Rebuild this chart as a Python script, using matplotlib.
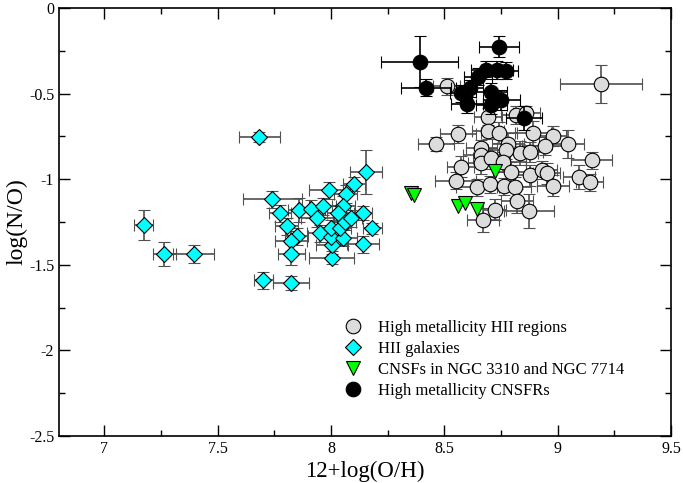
import numpy as np
import matplotlib
matplotlib.use("Agg")
import matplotlib.pyplot as plt
from matplotlib.lines import Line2D
from matplotlib.ticker import MultipleLocator

plt.rcParams['font.family'] = ['Liberation Serif', 'DejaVu Serif']

# High metallicity HII regions (grey circles)
hii_x = [9.192, 8.510, 8.463, 8.561, 8.693, 8.693, 8.741, 8.818, 8.862, 8.891,
         8.979, 9.045, 8.942, 8.781, 8.833, 8.877, 8.774, 8.664, 8.662, 8.664,
         8.708, 8.759, 8.796, 8.573, 8.551, 8.642, 8.701, 8.764, 8.811, 8.880,
         8.929, 8.951, 8.980, 9.093, 9.141, 9.151, 8.821, 8.872, 8.722, 8.671]
hii_y = [-0.444, -0.456, -0.796, -0.736, -0.635, -0.717, -0.728, -0.625, -0.615, -0.728,
         -0.748, -0.795, -0.806, -0.792, -0.849, -0.841, -0.829, -0.820, -0.859, -0.907,
         -0.878, -0.898, -0.959, -0.927, -1.009, -1.047, -1.029, -1.040, -1.047, -0.978,
         -0.946, -0.966, -1.037, -0.989, -1.018, -0.888, -1.127, -1.187, -1.178, -1.238]
hii_xerr = [0.18, 0.06, 0.08, 0.08, 0.06, 0.07, 0.08, 0.07, 0.06, 0.08,
            0.06, 0.07, 0.10, 0.07, 0.08, 0.06, 0.08, 0.07, 0.08, 0.06,
            0.08, 0.10, 0.08, 0.06, 0.09, 0.09, 0.07, 0.06, 0.07, 0.07,
            0.07, 0.06, 0.07, 0.07, 0.06, 0.09, 0.07, 0.11, 0.05, 0.07]
hii_yerr = [0.11, 0.05, 0.04, 0.05, 0.05, 0.05, 0.06, 0.05, 0.04, 0.07,
            0.06, 0.08, 0.05, 0.06, 0.07, 0.06, 0.05, 0.05, 0.05, 0.06,
            0.06, 0.06, 0.06, 0.06, 0.05, 0.05, 0.05, 0.05, 0.06, 0.06,
            0.05, 0.06, 0.06, 0.07, 0.05, 0.05, 0.07, 0.10, 0.06, 0.07]

# HII galaxies (cyan diamonds)
gal_x = [7.684, 7.173, 7.264, 7.395, 8.153, 8.101, 8.064, 7.992, 7.741, 7.775,
         7.860, 7.912, 7.963, 8.054, 8.142, 8.183, 7.937, 7.952, 7.805, 7.849,
         7.824, 7.824, 7.702, 7.824, 8.003, 8.003, 7.999, 7.999, 8.054, 8.040,
         8.062, 8.087, 8.032, 8.142]
gal_y = [-0.752, -1.267, -1.437, -1.437, -0.958, -1.026, -1.086, -1.065, -1.117, -1.199,
         -1.178, -1.174, -1.157, -1.157, -1.199, -1.287, -1.229, -1.316, -1.276, -1.332,
         -1.361, -1.439, -1.589, -1.608, -1.458, -1.384, -1.336, -1.287, -1.342, -1.287,
         -1.248, -1.229, -1.199, -1.380]
gal_xerr = [0.09, 0.04, 0.05, 0.09, 0.07, 0.05, 0.05, 0.09, 0.13, 0.05,
            0.05, 0.06, 0.06, 0.05, 0.04, 0.04, 0.07, 0.06, 0.05, 0.05,
            0.07, 0.06, 0.04, 0.08, 0.10, 0.07, 0.05, 0.05, 0.06, 0.05,
            0.05, 0.05, 0.05, 0.07]
gal_yerr = [0.03, 0.09, 0.07, 0.05, 0.13, 0.04, 0.05, 0.05, 0.05, 0.05,
            0.07, 0.05, 0.05, 0.06, 0.04, 0.03, 0.05, 0.05, 0.05, 0.05,
            0.06, 0.06, 0.05, 0.04, 0.04, 0.05, 0.05, 0.05, 0.05, 0.05,
            0.05, 0.05, 0.05, 0.05]

# CNSFs in NGC 3310 and NGC 7714 (green triangles)
cnsf_x = [8.351, 8.366, 8.722, 8.561, 8.593, 8.642]
cnsf_y = [-1.083, -1.092, -0.952, -1.157, -1.137, -1.174]

# High metallicity CNSFRs (black circles)
hm_x = [8.392, 8.741, 8.420, 8.574, 8.612, 8.601, 8.649, 8.686, 8.731, 8.774,
        8.708, 8.752, 8.708, 8.850]
hm_y = [-0.313, -0.226, -0.465, -0.498, -0.469, -0.561, -0.401, -0.362, -0.362, -0.366,
        -0.489, -0.537, -0.567, -0.644]
hm_xerr = [0.17, 0.09, 0.11, 0.05, 0.06, 0.07, 0.06, 0.07, 0.07, 0.05,
           0.07, 0.08, 0.07, 0.08]
hm_yerr = [0.15, 0.06, 0.05, 0.05, 0.05, 0.05, 0.05, 0.05, 0.05, 0.05,
           0.05, 0.06, 0.05, 0.07]

ecol = '#505050'
fig = plt.figure(figsize=(6.83, 4.83), dpi=100)
ax = fig.add_axes([0.0864, 0.0973, 0.896, 0.886])

ax.errorbar(hii_x, hii_y, xerr=hii_xerr, yerr=hii_yerr, fmt='o', ms=10.5,
            mfc='#dcdcdc', mec='black', mew=0.8, ecolor=ecol, elinewidth=1.2,
            capsize=4.5, capthick=1.2, zorder=2)
ax.errorbar(gal_x, gal_y, xerr=gal_xerr, yerr=gal_yerr, fmt='D', ms=8.3,
            mfc='#00ffff', mec='black', mew=0.8, ecolor=ecol, elinewidth=1.2,
            capsize=4.5, capthick=1.2, zorder=3)
ax.plot(cnsf_x, cnsf_y, 'v', ms=10, mfc='#00ff00', mec='black', mew=0.8, zorder=4)
ax.errorbar(hm_x, hm_y, xerr=hm_xerr, yerr=hm_yerr, fmt='o', ms=10.5,
            mfc='black', mec='black', mew=0.8, ecolor='black', elinewidth=1.2,
            capsize=4.5, capthick=1.2, zorder=5)

ax.set_xlim(6.8, 9.5)
ax.set_ylim(-2.5, 0)
ax.xaxis.set_minor_locator(MultipleLocator(0.25))
ax.yaxis.set_minor_locator(MultipleLocator(0.25))
ax.set_xticks([7, 7.5, 8, 8.5, 9, 9.5])
ax.set_xticklabels(['7', '7.5', '8', '8.5', '9', '9.5'])
ax.set_yticks([0, -0.5, -1, -1.5, -2, -2.5])
ax.set_yticklabels(['0', '-0.5', '-1', '-1.5', '-2', '-2.5'])
ax.tick_params(which='both', direction='in', top=True, right=True, labelsize=11.5)
ax.tick_params(which='major', length=8, width=1)
ax.tick_params(which='minor', length=4, width=1)
for s in ax.spines.values():
    s.set_linewidth(1.2)

ax.set_xlabel('12+log(O/H)', fontsize=16.5, labelpad=3)
ax.set_ylabel('log(N/O)', fontsize=17, labelpad=1)

handles = [
    Line2D([], [], ls='none', marker='o', ms=10.5, mfc='#dcdcdc', mec='black', mew=0.8),
    Line2D([], [], ls='none', marker='D', ms=8.3, mfc='#00ffff', mec='black', mew=0.8),
    Line2D([], [], ls='none', marker='v', ms=10, mfc='#00ff00', mec='black', mew=0.8),
    Line2D([], [], ls='none', marker='o', ms=10.5, mfc='black', mec='black', mew=0.8),
]
labels = ['High metallicity HII regions', 'HII galaxies',
          'CNSFs in NGC 3310 and NGC 7714', 'High metallicity CNSFRs']
ax.legend(handles, labels, loc='upper left', bbox_to_anchor=(0.45, 0.29),
          frameon=False, fontsize=12, handlelength=1.2, handletextpad=0.9,
          labelspacing=0.3, borderpad=0)

fig.savefig('out.png', dpi=100)
